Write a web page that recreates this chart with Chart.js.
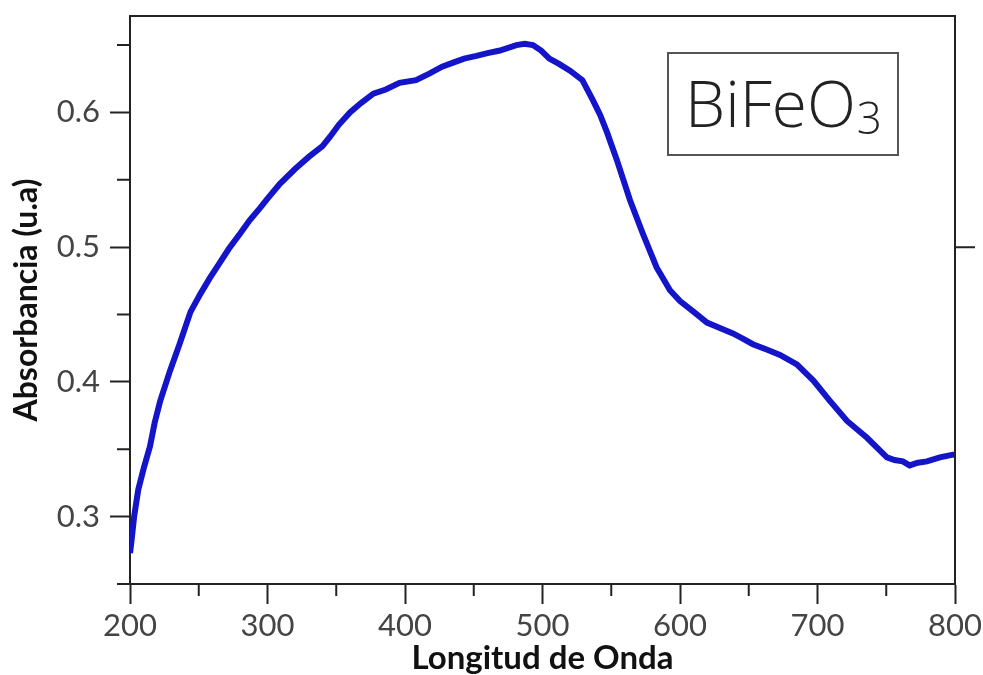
<!DOCTYPE html>
<html>
<head>
<meta charset="utf-8">
<script src="https://cdn.jsdelivr.net/npm/chart.js@4"></script>
<style>
  html, body { margin: 0; padding: 0; background: #fff; overflow: hidden; }
  #wrap { width: 983px; height: 675px; position: relative; }
</style>
</head>
<body>
<div id="wrap"><canvas id="absChart"></canvas></div>
<script>
// datos
const wavelength = [200, 201, 203, 206, 210, 214.5, 218, 222, 229, 236, 244, 251, 258, 265, 272, 280, 287, 294.5,
  300, 309, 320, 330, 340, 345.5, 352, 360, 368, 377, 386, 396, 408, 418, 427, 435, 443, 452, 460, 469, 481,
  487, 493, 499, 505, 512, 520, 529, 536.7, 542, 547, 554, 563.6, 573, 583, 592.7, 600, 610, 619.6, 629, 638.5,
  646, 653, 663, 672.7, 685, 697, 709, 721.5, 736, 750.5, 756, 762, 767, 773, 779.6, 789, 798.5, 800];
const absorbance = [0.273, 0.281, 0.300, 0.320, 0.336, 0.352, 0.370, 0.386, 0.408, 0.428, 0.452, 0.465, 0.477,
  0.488, 0.499, 0.510, 0.520, 0.529, 0.536, 0.547, 0.558, 0.567, 0.575, 0.582, 0.591, 0.600, 0.607, 0.614,
  0.617, 0.622, 0.624, 0.629, 0.634, 0.637, 0.640, 0.642, 0.644, 0.646, 0.650, 0.651, 0.650, 0.646, 0.640,
  0.636, 0.631, 0.624, 0.609, 0.598, 0.585, 0.565, 0.535, 0.510, 0.485, 0.468, 0.460, 0.452, 0.444, 0.440,
  0.436, 0.432, 0.428, 0.424, 0.420, 0.413, 0.401, 0.386, 0.371, 0.3585, 0.344, 0.342, 0.341, 0.338, 0.340,
  0.341, 0.344, 0.346, 0.346];

const xMajorTicks = [200, 300, 400, 500, 600, 700, 800];
const xMinorTicks = [250, 350, 450, 550, 650, 750];
const yMajorTicks = [0.3, 0.4, 0.5, 0.6];
const yMinorTicks = [0.25, 0.35, 0.45, 0.55, 0.65];
const rightTicks = [0.5];
const sampleLabel = ['BiFeO', '3'];

const axisColor = '#222';
const labelColor = '#444';

// marco, ticks menores y etiqueta de la muestra
const framePlugin = {
  id: 'frame',
  afterDraw(chart) {
    const { ctx, chartArea: a, scales: { x, y } } = chart;
    ctx.save();
    ctx.strokeStyle = axisColor;
    ctx.lineWidth = 2;
    ctx.beginPath();
    // borde superior y derecho
    ctx.moveTo(a.left, a.top);
    ctx.lineTo(a.right, a.top);
    ctx.lineTo(a.right, a.bottom);
    // ticks menores
    xMinorTicks.forEach(v => {
      const px = x.getPixelForValue(v);
      ctx.moveTo(px, a.bottom);
      ctx.lineTo(px, a.bottom + 12);
    });
    yMinorTicks.forEach(v => {
      const py = y.getPixelForValue(v);
      ctx.moveTo(a.left, py);
      ctx.lineTo(a.left - 13, py);
    });
    rightTicks.forEach(v => {
      const py = y.getPixelForValue(v);
      ctx.moveTo(a.right, py);
      ctx.lineTo(a.right + 20, py);
    });
    ctx.stroke();

    // recuadro BiFeO3
    const bx = 668, by = 53, bw = 230, bh = 102;
    ctx.strokeStyle = '#555';
    ctx.lineWidth = 2;
    ctx.strokeRect(bx, by, bw, bh);
    ctx.fillStyle = '#222';
    ctx.textBaseline = 'alphabetic';
    ctx.font = '300 64px "Open Sans", sans-serif';
    const w1 = ctx.measureText(sampleLabel[0]).width;
    ctx.font = '300 44px "Open Sans", sans-serif';
    const w2 = ctx.measureText(sampleLabel[1]).width;
    const tx = bx + (bw - w1 - w2) / 2;
    ctx.font = '300 64px "Open Sans", sans-serif';
    ctx.fillText(sampleLabel[0], tx, 127);
    ctx.font = '300 44px "Open Sans", sans-serif';
    ctx.fillText(sampleLabel[1], tx + w1 + 1, 134);
    ctx.restore();
  }
};

new Chart(document.getElementById('absChart'), {
  type: 'line',
  data: {
    datasets: [{
      label: 'BiFeO3',
      data: wavelength.map((w, i) => ({ x: w, y: absorbance[i] })),
      borderColor: '#1414c8',
      borderWidth: 6,
      pointRadius: 0,
      tension: 0,
      fill: false
    }]
  },
  options: {
    responsive: true,
    maintainAspectRatio: false,
    animation: false,
    layout: { padding: { left: 0, right: 28, top: 16, bottom: 0 } },
    plugins: {
      legend: { display: false },
      tooltip: { enabled: false }
    },
    scales: {
      x: {
        type: 'linear',
        min: 200,
        max: 800,
        afterBuildTicks: s => { s.ticks = xMajorTicks.map(v => ({ value: v })); },
        afterFit: s => { s.height = 91; s.paddingLeft = 0; s.paddingRight = 0; },
        border: { display: true, color: axisColor, width: 2 },
        grid: { drawOnChartArea: false, drawTicks: true, tickLength: 20, tickColor: axisColor, tickWidth: 2 },
        ticks: {
          color: labelColor,
          padding: 3,
          maxRotation: 0,
          font: { family: 'Lato', size: 31 },
          callback: v => String(v)
        },
        title: {
          display: true,
          text: 'Longitud de Onda',
          color: '#111',
          padding: { top: 0, bottom: 0 },
          font: { family: 'Lato', size: 33, weight: 'bold', lineHeight: 1 }
        }
      },
      y: {
        type: 'linear',
        min: 0.25,
        max: 0.6716,
        afterBuildTicks: s => { s.ticks = yMajorTicks.map(v => ({ value: v })); },
        afterFit: s => { s.width = 130; s.paddingTop = 0; s.paddingBottom = 0; },
        border: { display: true, color: axisColor, width: 2 },
        grid: { drawOnChartArea: false, drawTicks: true, tickLength: 20, tickColor: axisColor, tickWidth: 2 },
        ticks: {
          color: labelColor,
          padding: 10,
          font: { family: 'Lato', size: 31 },
          callback: v => v.toFixed(1)
        },
        title: {
          display: true,
          text: 'Absorbancia (u.a)',
          color: '#111',
          padding: { top: 11, bottom: 0 },
          font: { family: 'Lato', size: 32, weight: 'bold', lineHeight: 1 }
        }
      }
    }
  },
  plugins: [framePlugin]
});
</script>
</body>
</html>
